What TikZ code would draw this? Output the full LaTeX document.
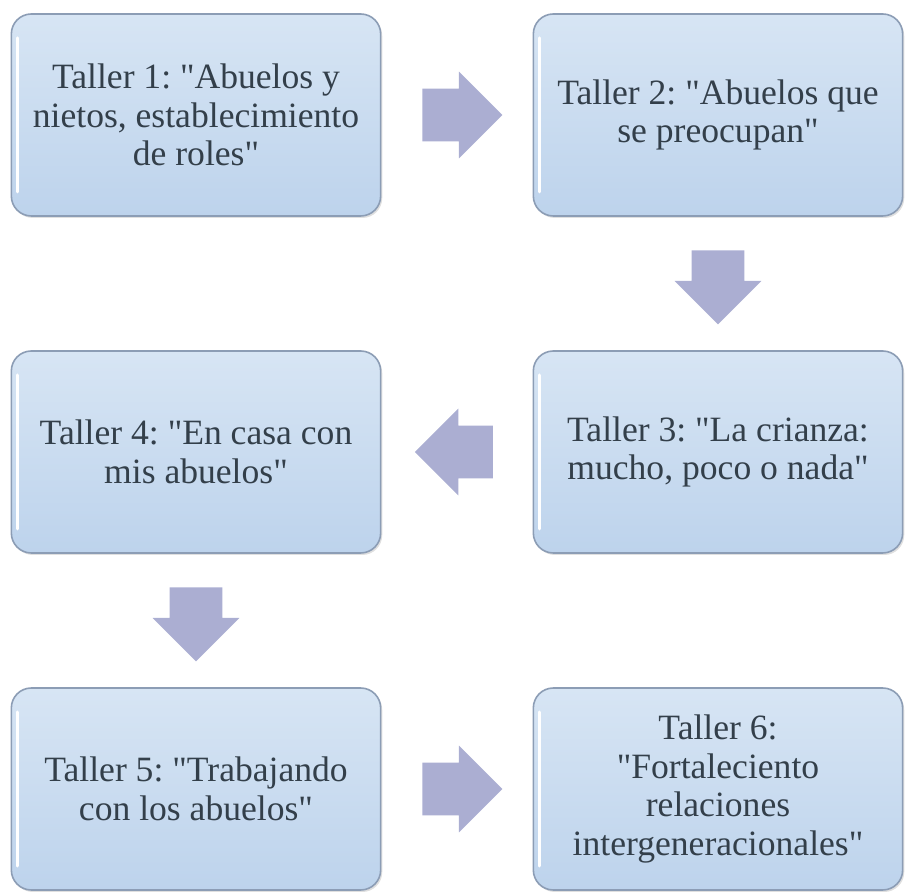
\documentclass[tikz,border=0pt]{standalone}
\usepackage{fontspec}
\setmainfont{Liberation Serif}
\usetikzlibrary{positioning, shapes.arrows, shadows}
\definecolor{boxtop}{HTML}{D7E5F4}
\definecolor{boxbot}{HTML}{BDD3EC}
\definecolor{boxrim}{HTML}{8C9DB5}
\definecolor{boxtext}{HTML}{333F4A}
\definecolor{arrowfill}{HTML}{ABAED2}
\newcommand*{\cita}[1]{\textquotedbl#1\textquotedbl}

\begin{document}
\frenchspacing\hyphenpenalty=10000
\begin{tikzpicture}[node distance=168.5pt and 261pt,on grid,
      taller/.style={draw=boxrim, line width=0.8pt, rounded corners=10pt,
        top color=boxtop, bottom color=boxbot, text=boxtext,
        minimum width=184pt, minimum height=101pt, text width=178pt, align=flush center,
        font=\fontsize{17.8}{19.3}\selectfont,
        drop shadow={shadow xshift=0.8pt, shadow yshift=-1pt, fill=black!25},
        path picture={\draw[white, line width=1.5pt, line cap=round]
          ([xshift=3pt,yshift=-12pt]path picture bounding box.north west) --
          ([xshift=3pt,yshift=12pt]path picture bounding box.south west);}},
      flecha/.style={single arrow, draw=none, fill=arrowfill, inner xsep=0pt, inner ysep=13pt,
        minimum height=40pt, single arrow head extend=8.5pt}]
      \useasboundingbox (-98pt,57.5pt) rectangle (354.5pt,-388.5pt);
      \node[taller] (t1) {Taller 1: \cita{Abuelos y nietos, establecimiento de roles}};
      \node[taller] (t2) [right=of t1] {Taller 2: \cita{Abuelos que se preocupan}};
      \node[taller] (t3) [below=of t2] {Taller 3: \cita{La crianza: mucho, poco o nada}};
      \node[taller] (t4) [below=of t1] {Taller 4: \cita{En casa con mis abuelos}};
      \node[taller] (t5) [below=of t4] {Taller 5: \cita{Trabajando con los abuelos}};
      \node[taller] (t6) [right=of t5] {Taller 6:\\ \cita{Fortaleciento\\ relaciones\\ intergeneracionales}};
      % flechas entre talleres
      \path (t1) -- (t2) node[pos=0.448, flecha] (f12) {};
      \path (t2) -- (t3) node[pos=0.43, flecha, rotate=-90, minimum height=37pt] (f23) {};
      \path (t3) -- (t4) node[pos=0.433, flecha, rotate=180, minimum height=39pt] (f34) {};
      \path (t4) -- (t5) node[pos=0.43, flecha, rotate=-90, minimum height=37pt] (f45) {};
      \path (t5) -- (t6) node[pos=0.448, flecha] (f56) {};
    \end{tikzpicture}
\end{document}
